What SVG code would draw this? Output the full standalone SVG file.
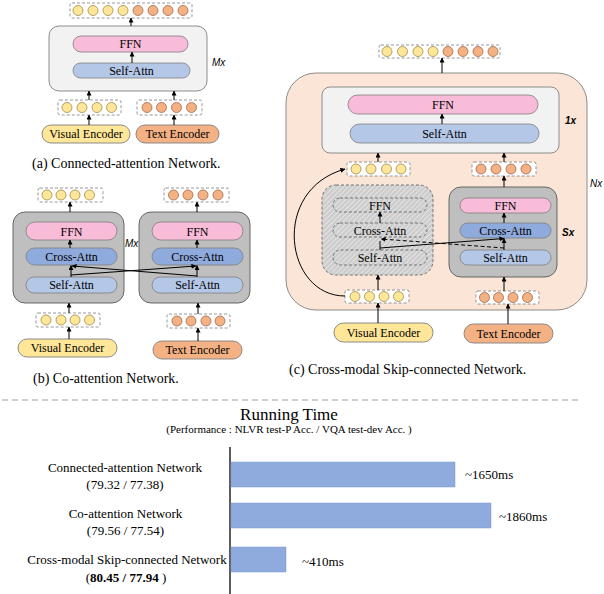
<svg xmlns="http://www.w3.org/2000/svg" width="604" height="594" viewBox="0 0 604 594">
<defs>
<marker id="ah" markerUnits="userSpaceOnUse" markerWidth="5" markerHeight="5" viewBox="0 0 6 6" refX="5.5" refY="3" orient="auto"><path d="M0,0 L6,3 L0,6 z" fill="#000"/></marker>
<pattern id="hatch" patternUnits="userSpaceOnUse" width="3.5" height="3.5" patternTransform="rotate(45)"><rect width="3.5" height="3.5" fill="#cdcdcd"/><line x1="0" y1="0" x2="0" y2="3.5" stroke="#eeeeee" stroke-width="1.3"/></pattern>
</defs>
<style>
.t{font-family:"Liberation Serif","Times New Roman",serif;fill:#000;text-anchor:middle}
.s{text-anchor:start}
.p{font-size:12px}
.cap{font-size:14px;text-anchor:start}
.lab{font-family:"Liberation Sans",Arial,sans-serif;font-size:10px;font-style:italic;fill:#000}
.b{font-weight:bold}
.ffn{fill:#f8bbd8;stroke:#7f7f7f;stroke-width:0.8}
.sa{fill:#b4c7e7;stroke:#7f7f7f;stroke-width:0.8}
.ca{fill:#8faadc;stroke:#7f7f7f;stroke-width:0.8}
.dp{fill:none;stroke:#595959;stroke-width:0.8;stroke-dasharray:3 2}
.tok{fill:#fff;stroke:#7f7f7f;stroke-width:0.8;stroke-dasharray:3 2}
.y{fill:#ffe699;stroke:#a08a4a;stroke-width:0.8}
.o{fill:#f4b183;stroke:#a0684a;stroke-width:0.8}
.ve{fill:#ffe699;stroke:#7f7f7f;stroke-width:0.9}
.te{fill:#f4b183;stroke:#7f7f7f;stroke-width:0.9}
.lt{fill:#f2f2f2;stroke:#7f7f7f;stroke-width:0.9}
.gr{fill:#bfbfbf;stroke:#595959;stroke-width:0.9}
.ar{stroke:#000;stroke-width:1;fill:none;marker-end:url(#ah)}
.ln{stroke:#000;stroke-width:1;fill:none}
.bar{fill:#8faadc;stroke:#7f9bd0;stroke-width:0.5}
</style>

<!-- ===== (a) Connected-attention ===== -->
<g id="a-output-tokens">
<rect class="tok" x="70" y="3" width="122" height="15" rx="2"/>
<circle class="y" cx="78" cy="10.5" r="5"/><circle class="y" cx="93" cy="10.5" r="5"/><circle class="y" cx="108" cy="10.5" r="5"/><circle class="y" cx="123" cy="10.5" r="5"/>
<circle class="o" cx="138" cy="10.5" r="5"/><circle class="o" cx="153" cy="10.5" r="5"/><circle class="o" cx="168" cy="10.5" r="5"/><circle class="o" cx="183" cy="10.5" r="5"/>
</g>
<g id="a-block">
<rect class="lt" x="49" y="26" width="158" height="65" rx="10"/>
<rect class="ffn" x="73" y="36" width="115" height="16" rx="8"/>
<text class="t p" x="130.5" y="48">FFN</text>
<rect class="sa" x="73" y="63" width="117" height="15" rx="7.5"/>
<text class="t p" x="131.5" y="74.5">Self-Attn</text>
<text class="lab" x="212" y="65.5">Mx</text>
</g>
<g id="a-visual-tokens">
<rect class="tok" x="58" y="100" width="63" height="15" rx="2"/>
<circle class="y" cx="67" cy="107.5" r="5"/><circle class="y" cx="82" cy="107.5" r="5"/><circle class="y" cx="97" cy="107.5" r="5"/><circle class="y" cx="111.5" cy="107.5" r="5"/>
</g>
<g id="a-text-tokens">
<rect class="tok" x="137" y="100" width="65" height="15" rx="2"/>
<circle class="o" cx="147" cy="107.5" r="5"/><circle class="o" cx="161.5" cy="107.5" r="5"/><circle class="o" cx="176.5" cy="107.5" r="5"/><circle class="o" cx="191.5" cy="107.5" r="5"/>
</g>
<g id="a-visual-encoder">
<rect class="ve" x="42" y="125" width="88" height="18" rx="9"/>
<text class="t p" x="86" y="138">Visual Encoder</text>
</g>
<g id="a-text-encoder">
<rect class="te" x="136" y="125" width="83" height="18" rx="9"/>
<text class="t p" x="177.5" y="138">Text Encoder</text>
</g>
<text class="t cap" x="32" y="167.5">(a) Connected-attention Network.</text>

<!-- ===== (b) Co-attention ===== -->
<g id="b-left-output-tokens">
<rect class="tok" x="38" y="188" width="65" height="14" rx="2"/>
<circle class="y" cx="47" cy="195" r="5"/><circle class="y" cx="61" cy="195" r="5"/><circle class="y" cx="75" cy="195" r="5"/><circle class="y" cx="89.5" cy="195" r="5"/>
</g>
<g id="b-right-output-tokens">
<rect class="tok" x="164" y="188" width="65" height="14" rx="2"/>
<circle class="o" cx="173.5" cy="195" r="5"/><circle class="o" cx="188" cy="195" r="5"/><circle class="o" cx="203" cy="195" r="5"/><circle class="o" cx="218" cy="195" r="5"/>
</g>
<g id="b-left-block">
<rect class="gr" x="13" y="212" width="111" height="91" rx="12"/>
<rect class="ffn" x="26" y="222" width="91" height="18" rx="9"/>
<text class="t p" x="71.5" y="235.5">FFN</text>
<rect class="ca" x="26" y="248" width="91" height="17" rx="8.5"/>
<text class="t p" x="71.5" y="260.5">Cross-Attn</text>
<rect class="sa" x="26" y="277" width="91" height="16" rx="8"/>
<text class="t p" x="71.5" y="289">Self-Attn</text>
</g>
<g id="b-right-block">
<rect class="gr" x="139" y="212" width="111" height="91" rx="12"/>
<rect class="ffn" x="152" y="222" width="91" height="18" rx="9"/>
<text class="t p" x="197.5" y="235.5">FFN</text>
<rect class="ca" x="152" y="248" width="91" height="17" rx="8.5"/>
<text class="t p" x="197.5" y="260.5">Cross-Attn</text>
<rect class="sa" x="152" y="277" width="91" height="16" rx="8"/>
<text class="t p" x="197.5" y="289">Self-Attn</text>
</g>
<text class="lab" x="125" y="247">Mx</text>
<g id="b-left-input-tokens">
<rect class="tok" x="36" y="313" width="64" height="14" rx="2"/>
<circle class="y" cx="46" cy="320" r="5"/><circle class="y" cx="61" cy="320" r="5"/><circle class="y" cx="75" cy="320" r="5"/><circle class="y" cx="89.5" cy="320" r="5"/>
</g>
<g id="b-right-input-tokens">
<rect class="tok" x="167" y="314" width="63" height="14" rx="2"/>
<circle class="o" cx="177" cy="321" r="5"/><circle class="o" cx="191" cy="321" r="5"/><circle class="o" cx="206" cy="321" r="5"/><circle class="o" cx="220" cy="321" r="5"/>
</g>
<g id="b-visual-encoder">
<rect class="ve" x="18" y="339" width="99" height="18" rx="9"/>
<text class="t p" x="67.5" y="352">Visual Encoder</text>
</g>
<g id="b-text-encoder">
<rect class="te" x="153" y="341" width="89" height="18" rx="9"/>
<text class="t p" x="197.5" y="354">Text Encoder</text>
</g>
<text class="t cap" x="33" y="382.5">(b) Co-attention Network.</text>

<!-- ===== (c) Cross-modal Skip-connected ===== -->
<g id="c-output-tokens">
<rect class="tok" x="379" y="45" width="121" height="13" rx="2"/>
<circle class="y" cx="387" cy="51.5" r="5"/><circle class="y" cx="402.5" cy="51.5" r="5"/><circle class="y" cx="418" cy="51.5" r="5"/><circle class="y" cx="433" cy="51.5" r="5"/>
<circle class="o" cx="448" cy="51.5" r="5"/><circle class="o" cx="463" cy="51.5" r="5"/><circle class="o" cx="478" cy="51.5" r="5"/><circle class="o" cx="493" cy="51.5" r="5"/>
</g>
<g id="c-outer-block">
<rect x="286" y="73" width="301" height="237" rx="30" fill="#fbe5d6" stroke="#7f7f7f" stroke-width="0.9"/>
<text class="lab" x="590" y="187">Nx</text>
</g>
<g id="c-top-block">
<rect class="lt" x="322" y="87" width="237" height="66" rx="8"/>
<rect class="ffn" x="348" y="95" width="190" height="19" rx="9.5"/>
<text class="t p" x="443" y="108.5">FFN</text>
<rect class="sa" x="350" y="124" width="189" height="19" rx="9.5"/>
<text class="t p" x="444.5" y="137.5">Self-Attn</text>
<text class="lab b" x="565" y="124">1x</text>
</g>
<g id="c-mid-visual-tokens">
<rect class="tok" x="347" y="162" width="63" height="14" rx="2"/>
<circle class="y" cx="356" cy="169" r="5"/><circle class="y" cx="371" cy="169" r="5"/><circle class="y" cx="386.5" cy="169" r="5"/><circle class="y" cx="401" cy="169" r="5"/>
</g>
<g id="c-mid-text-tokens">
<rect class="tok" x="472" y="162" width="64" height="14" rx="2"/>
<circle class="o" cx="481" cy="169" r="5"/><circle class="o" cx="496" cy="169" r="5"/><circle class="o" cx="511" cy="169" r="5"/><circle class="o" cx="526" cy="169" r="5"/>
</g>
<g id="c-skipped-block">
<rect x="322" y="185" width="111" height="90" rx="14" fill="url(#hatch)" stroke="#595959" stroke-width="0.8" stroke-dasharray="3 2"/>
<rect class="dp" x="333" y="198" width="94" height="14" rx="7"/>
<text class="t p" x="380" y="209.5">FFN</text>
<rect class="dp" x="333" y="223" width="94" height="14" rx="7"/>
<text class="t p" x="380" y="234.5">Cross-Attn</text>
<rect class="dp" x="333" y="250" width="94" height="15" rx="7.5"/>
<text class="t p" x="380" y="262">Self-Attn</text>
</g>
<g id="c-text-block">
<rect class="gr" x="449" y="187" width="108" height="90" rx="12"/>
<rect class="ffn" x="460" y="198" width="91" height="15" rx="7.5"/>
<text class="t p" x="505.5" y="210">FFN</text>
<rect class="ca" x="460" y="223" width="91" height="15" rx="7.5"/>
<text class="t p" x="505.5" y="235">Cross-Attn</text>
<rect class="sa" x="460" y="250" width="91" height="15" rx="7.5"/>
<text class="t p" x="505.5" y="262">Self-Attn</text>
<text class="lab b" x="562" y="236">Sx</text>
</g>
<g id="c-in-visual-tokens">
<rect class="tok" x="345" y="290" width="64" height="13" rx="2"/>
<circle class="y" cx="355" cy="296.5" r="5"/><circle class="y" cx="369.5" cy="296.5" r="5"/><circle class="y" cx="384" cy="296.5" r="5"/><circle class="y" cx="398.5" cy="296.5" r="5"/>
</g>
<g id="c-in-text-tokens">
<rect class="tok" x="476" y="291" width="63" height="13" rx="2"/>
<circle class="o" cx="484.5" cy="297.5" r="5"/><circle class="o" cx="498.5" cy="297.5" r="5"/><circle class="o" cx="513" cy="297.5" r="5"/><circle class="o" cx="527.5" cy="297.5" r="5"/>
</g>
<g id="c-visual-encoder">
<rect class="ve" x="334" y="323" width="99" height="19" rx="9.5"/>
<text class="t p" x="383.5" y="336.5">Visual Encoder</text>
</g>
<g id="c-text-encoder">
<rect class="te" x="464" y="324" width="89" height="19" rx="9.5"/>
<text class="t p" x="508.5" y="337.5">Text Encoder</text>
</g>
<text class="t cap" x="289" y="373.5">(c) Cross-modal Skip-connected Network.</text>

<!-- ===== connectors ===== -->
<g id="connectors">
<!-- (a) -->
<line class="ar" x1="131" y1="26" x2="131" y2="18"/>
<line class="ar" x1="132" y1="63" x2="132" y2="52"/>
<line class="ar" x1="89" y1="100" x2="89" y2="91"/>
<line class="ar" x1="174" y1="100" x2="174" y2="91"/>
<line class="ar" x1="89" y1="125" x2="89" y2="115"/>
<line class="ar" x1="174" y1="125" x2="174" y2="115"/>
<!-- (b) -->
<line class="ar" x1="70" y1="212" x2="70" y2="202"/>
<line class="ar" x1="197" y1="212" x2="197" y2="202"/>
<line class="ar" x1="70" y1="248" x2="70" y2="240"/>
<line class="ar" x1="197" y1="248" x2="197" y2="240"/>
<line class="ar" x1="71" y1="277" x2="71" y2="265.5"/>
<line class="ar" x1="197" y1="277" x2="197" y2="265.5"/>
<line class="ar" x1="71" y1="275" x2="196" y2="266"/>
<line class="ar" x1="197" y1="276" x2="72" y2="266"/>
<line class="ar" x1="69" y1="313" x2="69" y2="303"/>
<line class="ar" x1="198" y1="314" x2="198" y2="303"/>
<line class="ar" x1="69" y1="339" x2="69" y2="327"/>
<line class="ar" x1="198" y1="341" x2="198" y2="328"/>
<!-- (c) -->
<line class="ar" x1="442" y1="73" x2="442" y2="58"/>
<line class="ar" x1="442" y1="124" x2="442" y2="114"/>
<line class="ar" x1="378" y1="162" x2="378" y2="153"/>
<line class="ar" x1="504" y1="162" x2="504" y2="153"/>
<line class="ar" x1="504" y1="187" x2="504" y2="176"/>
<line class="ar" x1="380" y1="223" x2="380" y2="212"/>
<line class="ar" x1="504" y1="223" x2="504" y2="213"/>
<line class="ln" x1="380" y1="250" x2="380" y2="241"/>
<line class="ar" x1="380" y1="248" x2="504" y2="238.5"/>
<line class="ar" x1="504" y1="250" x2="504" y2="238.5"/>
<line class="ar" x1="504" y1="248" x2="381" y2="239" stroke-dasharray="4 2.5"/>
<line class="ar" x1="378" y1="290" x2="378" y2="275"/>
<line class="ar" x1="504" y1="291" x2="504" y2="277"/>
<line class="ar" x1="378" y1="323" x2="378" y2="303"/>
<line class="ar" x1="508" y1="324" x2="508" y2="304"/>
<path class="ar" d="M345,296 C285,296 270,190 345,169"/>
</g>

<!-- ===== separator & chart ===== -->
<line x1="2" y1="400" x2="578" y2="400" stroke="#c0c0c0" stroke-width="1.5" stroke-dasharray="6 4"/>
<g id="chart">
<text class="t" x="289" y="420" font-size="17">Running Time</text>
<text class="t" x="289" y="433" font-size="11">(Performance : NLVR test-P Acc. / VQA test-dev Acc. )</text>
<line x1="230" y1="447" x2="230" y2="594" stroke="#262626" stroke-width="1.5"/>
<rect class="bar" x="231" y="462" width="224" height="25"/>
<rect class="bar" x="231" y="503" width="260" height="25"/>
<rect class="bar" x="231" y="547" width="55" height="25"/>
<text class="t s" x="465" y="479" font-size="13">~1650ms</text>
<text class="t s" x="499" y="521" font-size="13">~1860ms</text>
<text class="t s" x="302" y="566" font-size="13">~410ms</text>
<text class="t" x="125" y="472" font-size="13">Connected-attention Network</text>
<text class="t" x="125" y="489" font-size="13">(79.32 / 77.38)</text>
<text class="t" x="125.5" y="518" font-size="13">Co-attention Network</text>
<text class="t" x="125.5" y="535" font-size="13">(79.56 / 77.54)</text>
<text class="t" x="127" y="564" font-size="13">Cross-modal Skip-connected Network</text>
<text class="t" x="126" y="582" font-size="13">(<tspan font-weight="bold">80.45 / 77.94</tspan> )</text>
</g>
</svg>
